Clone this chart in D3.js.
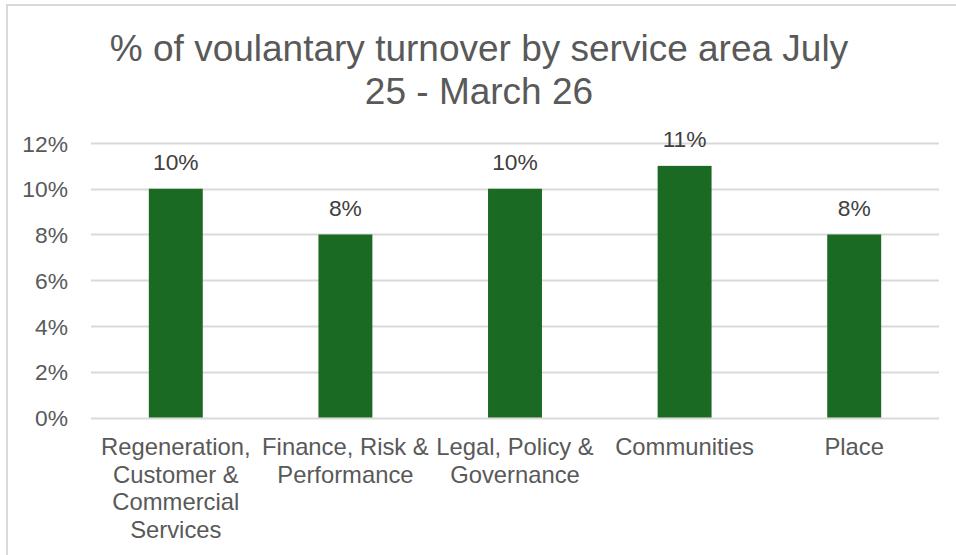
<!DOCTYPE html>
<html>
<head>
<meta charset="utf-8">
<script src="https://cdn.jsdelivr.net/npm/d3@7"></script>
<style>
  body { margin: 0; background: #fff; }
  text { font-family: "Liberation Sans", Arial, sans-serif; }
</style>
</head>
<body>
<svg id="chart" width="956" height="555"></svg>
<script>
// chart data
const titleLines = ['% of voulantary turnover by service area July', '25 - March 26'];
const categories = ['Regeneration, Customer & Commercial Services', 'Finance, Risk & Performance', 'Legal, Policy & Governance', 'Communities', 'Place'];
const values = [0.10, 0.08, 0.10, 0.11, 0.08];
const yTicks = [0, 0.02, 0.04, 0.06, 0.08, 0.10, 0.12];

const W = 956, H = 555;
const margin = { top: 143, right: 17, bottom: 137, left: 91 };

const svg = d3.select('#chart');

// outer chart border (only top / left show in the crop)
svg.append('rect')
  .attr('x', 7).attr('y', 5)
  .attr('width', W + 20).attr('height', H + 20)
  .attr('fill', 'none')
  .attr('stroke', '#d9d9d9')
  .attr('stroke-width', 2);

const title = svg.append('text')
  .attr('text-anchor', 'middle')
  .attr('fill', '#595959')
  .style('font-size', '37px');
title.selectAll('tspan')
  .data(titleLines)
  .join('tspan')
  .attr('x', 479)
  .attr('y', (d, i) => 61 + i * 43)
  .text(d => d);

const x = d3.scaleBand()
  .domain(categories)
  .range([margin.left, W - margin.right])
  .paddingInner(0.682)
  .paddingOuter(0.341);

const y = d3.scaleLinear()
  .domain([0, 0.12])
  .range([H - margin.bottom - 0.5, margin.top]);

const fmt = d3.format('.0%');

// gridlines
svg.append('g')
  .selectAll('line')
  .data(yTicks)
  .join('line')
  .attr('x1', margin.left)
  .attr('x2', W - margin.right)
  .attr('y1', d => Math.round(y(d)) + 0.5)
  .attr('y2', d => Math.round(y(d)) + 0.5)
  .attr('stroke', '#d9d9d9')
  .attr('stroke-width', 2);

// y axis labels
const yAxis = svg.append('g')
  .attr('transform', `translate(${margin.left}, 0)`)
  .call(d3.axisLeft(y).tickValues(yTicks).tickFormat(fmt).tickSize(0).tickPadding(23));
yAxis.select('.domain').remove();
yAxis.selectAll('text')
  .attr('fill', '#595959')
  .style('font-size', '22.8px')
  .attr('dy', '0.36em');

// bars
svg.append('g')
  .selectAll('rect')
  .data(values)
  .join('rect')
  .attr('x', (d, i) => x(categories[i]))
  .attr('width', x.bandwidth())
  .attr('y', d => y(d))
  .attr('height', d => y(0) - y(d))
  .attr('fill', '#1b6a23');

// data labels
svg.append('g')
  .selectAll('text')
  .data(values)
  .join('text')
  .attr('x', (d, i) => x(categories[i]) + x.bandwidth() / 2)
  .attr('y', d => y(d) - 19)
  .attr('text-anchor', 'middle')
  .attr('fill', '#404040')
  .style('font-size', '22.8px')
  .text(fmt);

// category labels, wrapped to the band step
const step = x.step();
const xLabels = svg.append('g')
  .selectAll('text')
  .data(categories)
  .join('text')
  .attr('text-anchor', 'middle')
  .attr('fill', '#595959')
  .style('font-size', '23.8px')
  .attr('x', d => x(d) + x.bandwidth() / 2)
  .attr('y', 455);

xLabels.each(function (d) {
  const el = d3.select(this);
  const words = d.split(' ');
  const lines = [];
  let line = [];
  const probe = el.append('tspan');
  words.forEach(w => {
    const trial = line.concat(w).join(' ');
    probe.text(trial);
    if (line.length && probe.node().getComputedTextLength() > step + 4) {
      lines.push(line.join(' '));
      line = [w];
    } else {
      line.push(w);
    }
  });
  lines.push(line.join(' '));
  probe.remove();
  el.selectAll('tspan')
    .data(lines)
    .join('tspan')
    .attr('x', el.attr('x'))
    .attr('y', (l, i) => 455 + i * 27.7)
    .text(l => l);
});
</script>
</body>
</html>
